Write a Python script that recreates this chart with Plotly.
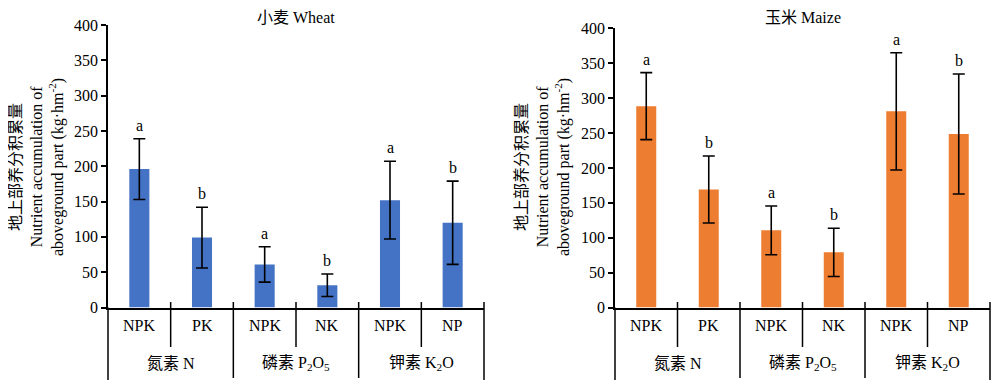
import plotly.graph_objects as go

treatments = ["NPK", "PK", "NPK", "NK", "NPK", "NP"]
groups = ["氮素 N", "磷素 P<sub>2</sub>O<sub>5</sub>", "钾素 K<sub>2</sub>O"]
wheat_vals = [196, 99, 61, 31.5, 152, 120]
wheat_err = [43, 43, 25, 16, 55, 59]
wheat_sig = ["a", "b", "a", "b", "a", "b"]
maize_vals = [288.5, 169, 110.5, 79, 281, 248.5]
maize_err = [48, 48, 35, 34.5, 84, 86]
maize_sig = ["a", "b", "a", "b", "a", "b"]
y_ticks = [0, 50, 100, 150, 200, 250, 300, 350, 400]

FONT = "Liberation Serif, Noto Sans CJK SC, serif"
H = 388.0
W = 1000.0
OFF = 8.0  # page body margin offset in the browser


def py(px):
    return 1 - (px - OFF) / H


def pxx(px):
    return (px - OFF) / W


fig = go.Figure()
xs = list(range(len(treatments)))

panels = [
    dict(vals=wheat_vals, err=wheat_err, sig=wheat_sig, color="#4472C4",
         xa="x", ya="y", xpx=[108, 484], ypx=[307.5, 25],
         title="小麦 Wheat", ytitle_x=37),
    dict(vals=maize_vals, err=maize_err, sig=maize_sig, color="#ED7D31",
         xa="x2", ya="y2", xpx=[615, 990], ypx=[307.5, 28.3],
         title="玉米 Maize", ytitle_x=543),
]

shapes = []
annotations = []
for k, p in enumerate(panels):
    fig.add_trace(go.Bar(
        x=xs, y=p["vals"], xaxis=p["xa"], yaxis=p["ya"], width=0.32,
        marker=dict(color=p["color"], line=dict(width=0)),
        error_y=dict(type="data", array=p["err"], visible=True,
                     color="black", thickness=1.6, width=6),
        showlegend=False, hoverinfo="skip",
    ))
    sfx = "" if k == 0 else "2"
    fig.layout["xaxis" + sfx] = dict(
        domain=[pxx(p["xpx"][0]), pxx(p["xpx"][1])], anchor="y" + sfx,
        range=[-0.5, len(xs) - 0.5], automargin=False,
        showline=True, linecolor="black", linewidth=1.5, ticks="",
        showticklabels=False, showgrid=False, zeroline=False, fixedrange=True)
    fig.layout["yaxis" + sfx] = dict(
        domain=[py(p["ypx"][0]), py(p["ypx"][1])], anchor="x" + sfx,
        range=[0, 400], automargin=False,
        tickvals=y_ticks, ticks="outside", ticklen=5, tickwidth=1.5,
        tickcolor="black", showline=True, linecolor="black", linewidth=1.5,
        showgrid=False, zeroline=False,
        tickfont=dict(family=FONT, size=16, color="black"), fixedrange=True)

    xdref = p["xa"] + " domain"
    n = len(xs)
    y_axis_px = p["ypx"][0]
    for i in range(n + 1):
        if i == 0:
            top, bot = y_axis_px, 380
        elif i == n:
            top, bot = y_axis_px - 5.5, 380
        elif i % 2 == 1:
            top, bot = y_axis_px - 5.5, 347
        else:
            top, bot = y_axis_px - 5.5, 378
        shapes.append(dict(type="line", xref=xdref, yref="paper",
                           x0=i / n, x1=i / n, y0=py(top), y1=py(bot),
                           line=dict(color="black", width=1.5)))
    for i, t in enumerate(treatments):
        annotations.append(dict(xref=xdref, yref="paper", x=(i + 0.5) / n,
                                y=py(325), text=t, showarrow=False,
                                xanchor="center", yanchor="middle",
                                font=dict(family=FONT, size=16, color="black")))
    for g, name in enumerate(groups):
        annotations.append(dict(xref=xdref, yref="paper", x=(2 * g + 1) / n,
                                y=py(363), text=name, showarrow=False,
                                xanchor="center", yanchor="middle",
                                font=dict(family=FONT, size=16, color="black")))
    for i in xs:
        annotations.append(dict(xref=p["xa"], yref=p["ya"], x=i,
                                y=p["vals"][i] + p["err"][i], text=p["sig"][i],
                                showarrow=False, xanchor="center",
                                yanchor="bottom", yshift=3,
                                font=dict(family=FONT, size=16, color="black")))
    annotations.append(dict(xref=xdref, yref="paper", x=0.5, y=py(17),
                            text=p["title"], showarrow=False,
                            xanchor="center", yanchor="middle",
                            font=dict(family=FONT, size=16, color="black")))
    annotations.append(dict(xref="paper", yref="paper", x=pxx(p["ytitle_x"]),
                            y=py(167),
                            text="地上部养分积累量<br>Nutrient accumulation of<br>aboveground part (kg·hm<sup>-2</sup>)",
                            textangle=-90, showarrow=False,
                            xanchor="center", yanchor="middle",
                            font=dict(family=FONT, size=16, color="black")))

fig.update_layout(
    width=1000, height=388,
    margin=dict(l=0, r=0, t=0, b=0, pad=0, autoexpand=False),
    paper_bgcolor="white", plot_bgcolor="white",
    shapes=shapes, annotations=annotations,
)

fig.write_html("out.html")
